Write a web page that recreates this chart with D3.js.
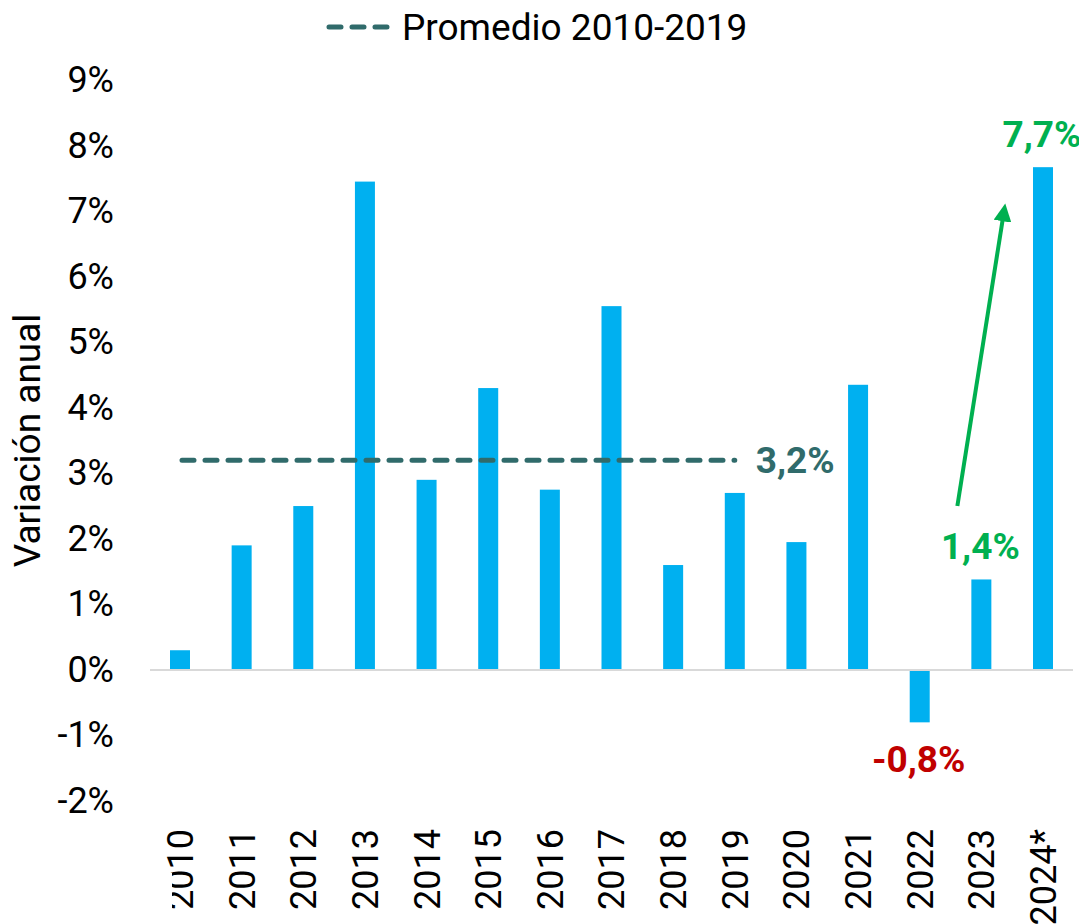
<!DOCTYPE html>
<html>
<head>
<meta charset="utf-8">
<script src="https://cdn.jsdelivr.net/npm/d3@7"></script>
<style>
  body { margin: 0; background: #fff; }
  text { font-family: Roboto, "Liberation Sans", sans-serif; }
</style>
</head>
<body>
<div id="chart"></div>
<script>
// data
const years = ["2010", "2011", "2012", "2013", "2014", "2015", "2016", "2017",
               "2018", "2019", "2020", "2021", "2022", "2023", "2024*"];
const values = [0.3, 1.9, 2.5, 7.45, 2.9, 4.3, 2.75, 5.55, 1.6, 2.7, 1.95, 4.35, -0.8, 1.38, 7.67];
const average = 3.2;
const avgYears = ["2010", "2019"];
const yTicks = [-2, -1, 0, 1, 2, 3, 4, 5, 6, 7, 8, 9];
const callouts = [
  { year: "2022", value: -0.8, text: "-0,8%", color: "#c00000" },
  { year: "2023", value: 1.38, text: "1,4%", color: "#00b050" },
  { year: "2024*", value: 7.67, text: "7,7%", color: "#00b050" }
];

const W = 1079, H = 924;
const barColor = "#00b0f0", avgColor = "#306b6b", green = "#00b050";

const svg = d3.select("#chart").append("svg")
  .attr("width", W).attr("height", H);

const x = d3.scalePoint().domain(years).range([180, 1043]);
const y = d3.scaleLinear().domain([-2, 9]).range([801, 80]);
const barW = 20;

// y tick labels
const yAxis = svg.append("g")
  .attr("transform", "translate(114,0)")
  .call(d3.axisLeft(y).tickValues(yTicks).tickSize(0).tickPadding(0).tickFormat(d => d + "%"));
yAxis.select(".domain").remove();
yAxis.selectAll("text")
  .style("font-family", "Roboto, sans-serif")
  .style("font-size", "36px")
  .attr("fill", "#000");

// axis title
svg.append("text")
  .attr("transform", `translate(40,${y(3.5)}) rotate(-90)`)
  .attr("text-anchor", "middle")
  .style("font-size", "37px")
  .text("Variación anual");

// bars
svg.selectAll("rect.bar")
  .data(values)
  .enter().append("rect")
  .attr("class", "bar")
  .attr("x", (d, i) => x(years[i]) - barW / 2)
  .attr("y", d => y(Math.max(0, d)))
  .attr("width", barW)
  .attr("height", d => Math.abs(y(d) - y(0)))
  .attr("fill", barColor);

// zero line
svg.append("line")
  .attr("x1", 150).attr("x2", 1073)
  .attr("y1", y(0)).attr("y2", y(0))
  .attr("stroke", "#d9d9d9").attr("stroke-width", 2);

// average line
svg.append("line")
  .attr("x1", x(avgYears[0]) + 2).attr("x2", x(avgYears[1]))
  .attr("y1", y(average)).attr("y2", y(average))
  .attr("stroke", avgColor).attr("stroke-width", 5)
  .attr("stroke-linecap", "round")
  .attr("stroke-dasharray", "12,11");

svg.append("text")
  .attr("x", x(avgYears[1]) + 21).attr("y", y(average))
  .attr("dy", "0.35em")
  .attr("fill", avgColor)
  .style("font-size", "37px").style("font-weight", "bold")
  .text("3,2%");

// x labels (rotated); the "2" of the first one is cut like in the original
svg.append("clipPath").attr("id", "xclip")
  .append("path").attr("d", "M165,0 H1079 V924 H172 V873 H165 Z");

svg.append("g").attr("clip-path", "url(#xclip)")
  .selectAll("text")
  .data(years)
  .enter().append("text")
  .attr("transform", d => `translate(${x(d)},829) rotate(-90)`)
  .attr("text-anchor", "end")
  .attr("dy", "0.36em")
  .style("font-size", "36px")
  .attr("fill", "#000")
  .text(d => d);

// value callouts
svg.selectAll("text.callout")
  .data(callouts)
  .enter().append("text")
  .attr("class", "callout")
  .attr("x", d => x(d.year) - 1)
  .attr("y", d => d.value < 0 ? y(d.value) + 37 : y(d.value) - 33)
  .attr("dy", "0.35em")
  .attr("text-anchor", "middle")
  .attr("fill", d => d.color)
  .style("font-size", "37px").style("font-weight", "bold")
  .text(d => d.text);

// growth arrow
svg.append("defs").append("marker")
  .attr("id", "arrowhead")
  .attr("viewBox", "0 0 10 10")
  .attr("refX", 2).attr("refY", 5)
  .attr("markerWidth", 4.5).attr("markerHeight", 4.5)
  .attr("orient", "auto")
  .append("path").attr("d", "M0,0 L10,5 L0,10 Z").attr("fill", green);

svg.append("line")
  .attr("x1", x("2023") - 24).attr("y1", y(2.5))
  .attr("x2", x("2024*") - 40).attr("y2", y(6.9))
  .attr("stroke", green).attr("stroke-width", 4)
  .attr("marker-end", "url(#arrowhead)");

// legend
const legend = svg.append("g").attr("transform", "translate(0,27)");
legend.append("line")
  .attr("x1", 329).attr("x2", 390)
  .attr("stroke", avgColor).attr("stroke-width", 5)
  .attr("stroke-linecap", "round")
  .attr("stroke-dasharray", "12,11");
legend.append("text")
  .attr("x", 402).attr("dy", "0.35em")
  .style("font-size", "37px")
  .attr("fill", "#000")
  .text("Promedio 2010-2019");
</script>
</body>
</html>
